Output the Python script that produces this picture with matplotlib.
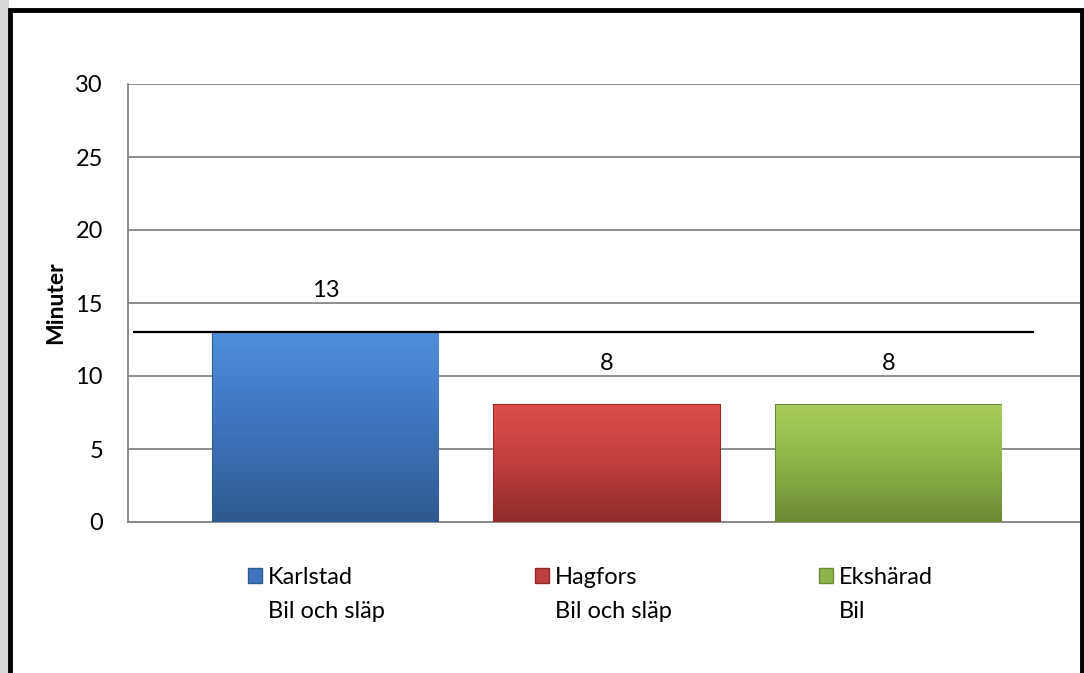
import numpy as np
import matplotlib.pyplot as plt
from matplotlib.colors import LinearSegmentedColormap
from matplotlib.patches import Rectangle

# Data
PLACES = ["Karlstad", "Hagfors", "Ekshärad"]
VEHICLES = ["Bil och släp", "Bil och släp", "Bil"]
MINUTES = [13, 8, 8]
REF_LINE = 13
Y_TICKS = [0, 5, 10, 15, 20, 25, 30]

colors = {
	"Karlstad": ("#4f8edb", "#3f74bc", "#2f5a90"),
	"Hagfors": ("#dc4e4a", "#c03e3b", "#8f2b29"),
	"Ekshärad": ("#a8cc5c", "#8fb24a", "#6b8a34"),
}

plt.rcParams["font.family"] = ["Lato", "DejaVu Sans"]

fig = plt.figure(figsize=(10.84, 6.73), dpi=100)
ax = fig.add_axes([128 / 1084, 151 / 673, 954 / 1084, 438 / 673])

x = np.arange(len(PLACES))
bars = ax.bar(x, MINUTES, width=0.8, zorder=3, edgecolor="none")
for bar, place in zip(bars, PLACES):
	top, mid, edge = colors[place]
	bar.set_facecolor(mid)
	bar.set_edgecolor(edge)
	bar.set_linewidth(1.5)
	cmap = LinearSegmentedColormap.from_list(place, [edge, mid, top])
	grad = np.linspace(0, 1, 100).reshape(-1, 1)
	bx, bw, bh = bar.get_x(), bar.get_width(), bar.get_height()
	img = ax.imshow(grad, cmap=cmap, origin="lower", aspect="auto",
		extent=[bx, bx + bw, 0, bh], zorder=3.5)
	img.set_clip_path(bar)
	ax.annotate(str(bar.get_height()), (bar.get_x() + bw / 2, bh),
		xytext=(0, 30), textcoords="offset points", ha="center", va="center",
		fontsize=17)

# horizontal reference line
ax.hlines(REF_LINE, -0.684, 2.517, color="black", linewidth=1.6, zorder=5)

ax.set_xlim(-0.7016, 2.687)
ax.set_ylim(0, 30)
ax.set_yticks(Y_TICKS)
ax.set_xticks([])
ax.tick_params(axis="y", length=0, pad=18, labelsize=17)
ax.yaxis.grid(True, color="#868686", linewidth=1.3, zorder=0)
ax.set_axisbelow(True)
for s in ["top", "right"]:
	ax.spines[s].set_visible(False)
for s in ["left", "bottom"]:
	ax.spines[s].set_color("#868686")
	ax.spines[s].set_linewidth(1.3)
ax.set_ylabel("Minuter", fontsize=16.5, fontweight="bold", labelpad=7)

handles = [Rectangle((0, 0), 1, 1, facecolor=colors[p][1], edgecolor=colors[p][2]) for p in PLACES]
leg = fig.legend(handles, PLACES, ncol=3, loc="center left", bbox_to_anchor=(236 / 1084, 1 - 577 / 673),
	frameon=False, fontsize=17, handlelength=0.6, handleheight=0.6, handletextpad=0.25,
	columnspacing=7.7, borderpad=0)
for t, v in zip(leg.get_texts(), VEHICLES):
	fig.add_artist(plt.Annotation(v, xy=(0, 0), xycoords=t, xytext=(0, -25),
		textcoords="offset points", fontsize=17, ha="left", va="bottom", zorder=10))

# outer frame with soft left shadow
fig.patches.append(Rectangle((0, 0), 9 / 1084, 1, transform=fig.transFigure,
	facecolor="#d8d8d8", edgecolor="none", zorder=0))
fig.patches.append(Rectangle((10 / 1084, -0.1), 1072 / 1084, 1.1 - 10 / 673, transform=fig.transFigure,
	fill=False, edgecolor="black", linewidth=3.5, zorder=1))

fig.savefig("out.png", dpi=100)
